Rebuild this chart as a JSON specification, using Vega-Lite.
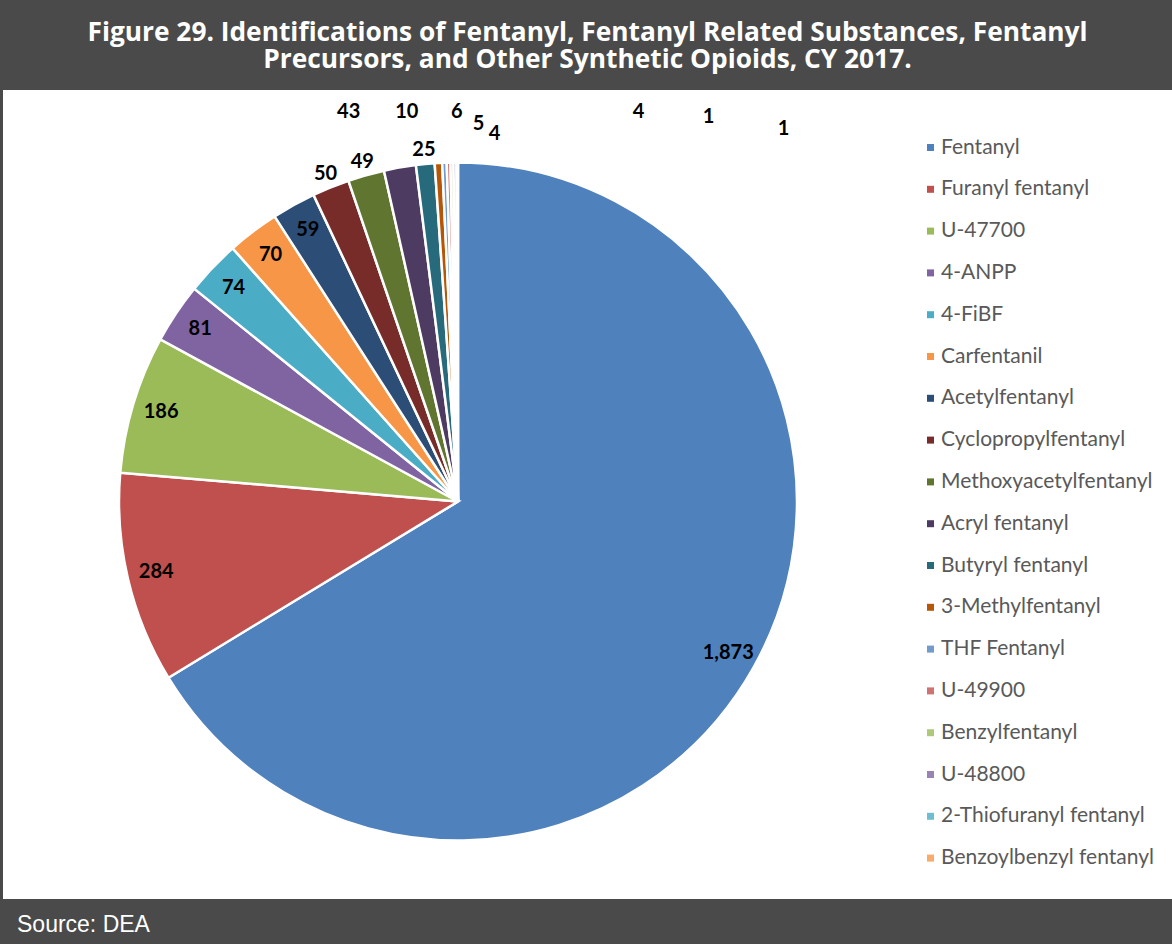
{
  "$schema": "https://vega.github.io/schema/vega-lite/v6.json",
  "background": "#4a4a4a",
  "padding": {"left": 3, "right": 0, "top": 19, "bottom": 8},
  "title": {
    "text": ["Figure 29. Identifications of Fentanyl, Fentanyl Related Substances, Fentanyl", "Precursors, and Other Synthetic Opioids, CY 2017."],
    "color": "white", "font": "Open Sans", "fontSize": 26.3, "fontWeight": "bold",
    "anchor": "middle", "offset": 17, "lineHeight": 27
  },
  "datasets": {
    "opioids": [
      {"name": "Fentanyl", "value": 1873},
      {"name": "Furanyl fentanyl", "value": 284},
      {"name": "U-47700", "value": 186},
      {"name": "4-ANPP", "value": 81},
      {"name": "4-FiBF", "value": 74},
      {"name": "Carfentanil", "value": 70},
      {"name": "Acetylfentanyl", "value": 59},
      {"name": "Cyclopropylfentanyl", "value": 50},
      {"name": "Methoxyacetylfentanyl", "value": 49},
      {"name": "Acryl fentanyl", "value": 43},
      {"name": "Butyryl fentanyl", "value": 25},
      {"name": "3-Methylfentanyl", "value": 10},
      {"name": "THF Fentanyl", "value": 6},
      {"name": "U-49900", "value": 5},
      {"name": "Benzylfentanyl", "value": 4},
      {"name": "U-48800", "value": 4},
      {"name": "2-Thiofuranyl fentanyl", "value": 1},
      {"name": "Benzoylbenzyl fentanyl", "value": 1}
    ]
  },
  "spacing": 0,
  "resolve": {"scale": {"color": "independent"}, "legend": {"color": "independent"}},
  "hconcat": [
    {
      "data": {"name": "opioids"},
      "width": 910,
      "height": 809,
      "view": {"fill": "white", "stroke": null},
      "title": {
        "text": "Source: DEA", "orient": "bottom", "anchor": "start", "color": "white",
        "font": "Liberation Sans", "fontSize": 23, "fontWeight": "normal",
        "offset": 15, "dx": 14, "baseline": "top"
      },
      "layer": [
        {
          "mark": {"type": "rect", "color": "white"},
          "encoding": {}
        },
        {
          "mark": {"type": "arc", "outerRadius": 339, "stroke": "white", "strokeWidth": 2.5, "yOffset": 7},
          "encoding": {
            "theta": {"field": "value", "type": "quantitative", "stack": true},
            "order": {"field": "value", "type": "quantitative", "sort": "descending"},
            "color": {
              "field": "name", "type": "nominal", "legend": null,
              "scale": {
                "domain": ["Fentanyl", "Furanyl fentanyl", "U-47700", "4-ANPP", "4-FiBF", "Carfentanil", "Acetylfentanyl", "Cyclopropylfentanyl", "Methoxyacetylfentanyl", "Acryl fentanyl", "Butyryl fentanyl", "3-Methylfentanyl", "THF Fentanyl", "U-49900", "Benzylfentanyl", "U-48800", "2-Thiofuranyl fentanyl", "Benzoylbenzyl fentanyl"],
                "range": ["#4f81bd", "#c0504d", "#9bbb59", "#8064a2", "#4bacc6", "#f79646", "#2c4d75", "#772c2a", "#5f7530", "#4d3b62", "#276a7c", "#b65708", "#729aca", "#cd7371", "#afc97a", "#9983b5", "#6fbdd1", "#f9ab6b"]
              }
            }
          }
        },
        {
          "mark": {"type": "text", "radius": 310, "clip": true, "font": "Lato", "fontWeight": "bold", "fontSize": 20, "color": "black", "yOffset": 7},
          "encoding": {
            "theta": {"field": "value", "type": "quantitative", "stack": true},
            "order": {"field": "value", "type": "quantitative", "sort": "descending"},
            "text": {"condition": {"test": "datum.value >= 59", "field": "value", "type": "quantitative", "format": ","}, "value": ""}
          }
        },
        {
          "mark": {"type": "text", "radius": 353, "clip": true, "font": "Lato", "fontWeight": "bold", "fontSize": 20, "color": "black", "yOffset": 7},
          "encoding": {
            "theta": {"field": "value", "type": "quantitative", "stack": true},
            "order": {"field": "value", "type": "quantitative", "sort": "descending"},
            "text": {"condition": {"test": "datum.name === 'Cyclopropylfentanyl' || datum.name === 'Methoxyacetylfentanyl' || datum.name === 'Butyryl fentanyl'", "field": "value", "type": "quantitative"}, "value": ""}
          }
        },
        {
          "mark": {"type": "text", "radius": 405, "thetaOffset": -0.101, "clip": true, "font": "Lato", "fontWeight": "bold", "fontSize": 20, "color": "black", "yOffset": 7},
          "encoding": {
            "theta": {"field": "value", "type": "quantitative", "stack": true},
            "order": {"field": "value", "type": "quantitative", "sort": "descending"},
            "text": {"condition": {"test": "datum.name === 'Acryl fentanyl'", "field": "value", "type": "quantitative"}, "value": ""}
          }
        },
        {
          "mark": {"type": "text", "radius": 393, "thetaOffset": -0.073, "clip": true, "font": "Lato", "fontWeight": "bold", "fontSize": 20, "color": "black", "yOffset": 7},
          "encoding": {
            "theta": {"field": "value", "type": "quantitative", "stack": true},
            "order": {"field": "value", "type": "quantitative", "sort": "descending"},
            "text": {"condition": {"test": "datum.name === '3-Methylfentanyl'", "field": "value", "type": "quantitative"}, "value": ""}
          }
        },
        {
          "mark": {"type": "text", "radius": 390, "thetaOffset": 0.037, "clip": true, "font": "Lato", "fontWeight": "bold", "fontSize": 20, "color": "black", "yOffset": 7},
          "encoding": {
            "theta": {"field": "value", "type": "quantitative", "stack": true},
            "order": {"field": "value", "type": "quantitative", "sort": "descending"},
            "text": {"condition": {"test": "datum.name === 'THF Fentanyl'", "field": "value", "type": "quantitative"}, "value": ""}
          }
        },
        {
          "mark": {"type": "text", "radius": 378, "thetaOffset": 0.082, "clip": true, "font": "Lato", "fontWeight": "bold", "fontSize": 20, "color": "black", "yOffset": 7},
          "encoding": {
            "theta": {"field": "value", "type": "quantitative", "stack": true},
            "order": {"field": "value", "type": "quantitative", "sort": "descending"},
            "text": {"condition": {"test": "datum.name === 'U-49900'", "field": "value", "type": "quantitative"}, "value": ""}
          }
        },
        {
          "mark": {"type": "text", "radius": 369, "thetaOffset": 0.117, "clip": true, "font": "Lato", "fontWeight": "bold", "fontSize": 20, "color": "black", "yOffset": 7},
          "encoding": {
            "theta": {"field": "value", "type": "quantitative", "stack": true},
            "order": {"field": "value", "type": "quantitative", "sort": "descending"},
            "text": {"condition": {"test": "datum.name === 'Benzylfentanyl'", "field": "value", "type": "quantitative"}, "value": ""}
          }
        },
        {
          "mark": {"type": "text", "radius": 429, "thetaOffset": 0.443, "clip": true, "font": "Lato", "fontWeight": "bold", "fontSize": 20, "color": "black", "yOffset": 7},
          "encoding": {
            "theta": {"field": "value", "type": "quantitative", "stack": true},
            "order": {"field": "value", "type": "quantitative", "sort": "descending"},
            "text": {"condition": {"test": "datum.name === 'U-48800'", "field": "value", "type": "quantitative"}, "value": ""}
          }
        },
        {
          "mark": {"type": "text", "radius": 459, "thetaOffset": 0.581, "clip": true, "font": "Lato", "fontWeight": "bold", "fontSize": 20, "color": "black", "yOffset": 7},
          "encoding": {
            "theta": {"field": "value", "type": "quantitative", "stack": true},
            "order": {"field": "value", "type": "quantitative", "sort": "descending"},
            "text": {"condition": {"test": "datum.name === '2-Thiofuranyl fentanyl'", "field": "value", "type": "quantitative"}, "value": ""}
          }
        },
        {
          "mark": {"type": "text", "radius": 495, "thetaOffset": 0.719, "clip": true, "font": "Lato", "fontWeight": "bold", "fontSize": 20, "color": "black", "yOffset": 7},
          "encoding": {
            "theta": {"field": "value", "type": "quantitative", "stack": true},
            "order": {"field": "value", "type": "quantitative", "sort": "descending"},
            "text": {"condition": {"test": "datum.name === 'Benzoylbenzyl fentanyl'", "field": "value", "type": "quantitative"}, "value": ""}
          }
        }
      ]
    },
    {
      "data": {"name": "opioids"},
      "width": 259,
      "height": 809,
      "view": {"fill": "white", "stroke": null},
      "layer": [
        {
          "mark": {"type": "rect", "color": "white"},
          "encoding": {}
        },
        {
          "mark": {"type": "point", "filled": true, "opacity": 0},
          "encoding": {
            "color": {
              "field": "name", "type": "nominal",
              "scale": {
                "domain": ["Fentanyl", "Furanyl fentanyl", "U-47700", "4-ANPP", "4-FiBF", "Carfentanil", "Acetylfentanyl", "Cyclopropylfentanyl", "Methoxyacetylfentanyl", "Acryl fentanyl", "Butyryl fentanyl", "3-Methylfentanyl", "THF Fentanyl", "U-49900", "Benzylfentanyl", "U-48800", "2-Thiofuranyl fentanyl", "Benzoylbenzyl fentanyl"],
                "range": ["#4f81bd", "#c0504d", "#9bbb59", "#8064a2", "#4bacc6", "#f79646", "#2c4d75", "#772c2a", "#5f7530", "#4d3b62", "#276a7c", "#b65708", "#729aca", "#cd7371", "#afc97a", "#9983b5", "#6fbdd1", "#f9ab6b"]
              },
              "legend": {
                "orient": "none", "legendX": 7, "legendY": 47, "title": null, "padding": 0,
                "symbolType": "square", "symbolSize": 49, "symbolOpacity": 1, "symbolStrokeWidth": 0,
                "labelFont": "Lato", "labelFontSize": 21, "labelColor": "#595959", "labelOffset": 0,
                "labelLimit": 300, "rowPadding": 19.8
              }
            }
          }
        }
      ]
    }
  ],
  "config": {"view": {"stroke": null}}
}
